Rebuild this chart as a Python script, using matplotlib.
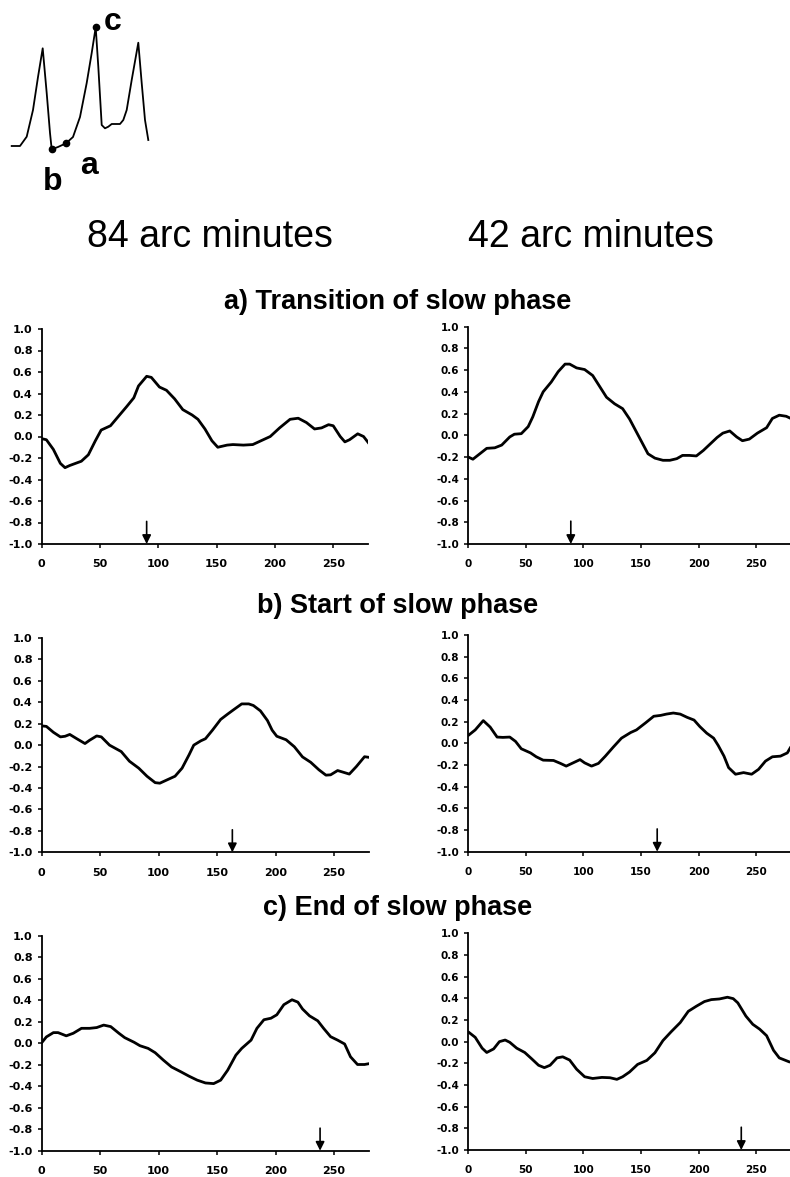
import matplotlib
matplotlib.use("Agg")
import matplotlib.pyplot as plt
import numpy as np

plt.rcParams['font.family'] = ['Liberation Sans', 'DejaVu Sans']

# ---------------- data ----------------
col_titles = ["84 arc minutes", "42 arc minutes"]
row_titles = ["a) Transition of slow phase", "b) Start of slow phase", "c) End of slow phase"]
x_ticks = [0, 50, 100, 150, 200, 250]
y_ticks = [-1.0, -0.8, -0.6, -0.4, -0.2, 0.0, 0.2, 0.4, 0.6, 0.8, 1.0]

a84_x = [0, 4, 10, 16, 20, 24, 29, 34, 40, 46, 51, 59, 66, 73, 79, 83, 90, 94, 101, 107, 114, 121, 129, 134, 140, 146, 151, 159, 164, 173, 181, 190, 196, 204, 213, 220, 227, 234, 240, 246, 250, 256, 260, 264, 271, 276, 281]
a84_y = [-0.02, -0.03, -0.12, -0.25, -0.29, -0.27, -0.25, -0.23, -0.17, -0.04, 0.06, 0.10, 0.19, 0.28, 0.36, 0.47, 0.56, 0.55, 0.46, 0.43, 0.35, 0.25, 0.20, 0.16, 0.07, -0.04, -0.10, -0.08, -0.075, -0.08, -0.075, -0.03, 0.0, 0.08, 0.16, 0.17, 0.13, 0.07, 0.08, 0.11, 0.10, 0.0, -0.05, -0.03, 0.025, 0.0, -0.07]

a42_x = [0, 4, 10, 16, 23, 29, 36, 40, 46, 52, 56, 61, 65, 72, 78, 84, 88, 94, 101, 108, 114, 120, 127, 134, 140, 146, 152, 156, 162, 169, 175, 181, 186, 192, 198, 204, 210, 216, 221, 227, 233, 238, 244, 251, 259, 264, 270, 276, 280]
a42_y = [-0.20, -0.22, -0.17, -0.12, -0.115, -0.09, -0.015, 0.01, 0.015, 0.08, 0.17, 0.31, 0.40, 0.49, 0.585, 0.655, 0.655, 0.62, 0.605, 0.55, 0.45, 0.35, 0.29, 0.245, 0.15, 0.03, -0.09, -0.17, -0.21, -0.23, -0.23, -0.215, -0.185, -0.185, -0.19, -0.14, -0.08, -0.02, 0.02, 0.04, -0.015, -0.05, -0.035, 0.02, 0.07, 0.155, 0.185, 0.175, 0.155]

b84_x = [0, 4, 10, 16, 20, 24, 30, 37, 41, 47, 51, 58, 63, 68, 75, 83, 90, 97, 101, 108, 114, 120, 126, 130, 136, 140, 146, 153, 159, 164, 171, 177, 181, 187, 193, 197, 201, 209, 216, 223, 230, 237, 243, 247, 253, 257, 263, 269, 276, 280]
b84_y = [0.18, 0.175, 0.12, 0.077, 0.083, 0.10, 0.06, 0.015, 0.046, 0.086, 0.077, 0.0, -0.03, -0.06, -0.15, -0.215, -0.29, -0.35, -0.355, -0.32, -0.29, -0.215, -0.09, 0.0, 0.04, 0.06, 0.14, 0.24, 0.29, 0.33, 0.385, 0.385, 0.37, 0.32, 0.23, 0.14, 0.083, 0.05, -0.015, -0.11, -0.16, -0.23, -0.28, -0.277, -0.237, -0.25, -0.27, -0.20, -0.108, -0.114]

b42_x = [0, 6, 13, 19, 25, 30, 36, 41, 46, 54, 59, 65, 74, 80, 85, 91, 97, 101, 107, 113, 119, 126, 133, 141, 146, 154, 161, 167, 172, 178, 184, 190, 196, 201, 207, 213, 217, 222, 226, 232, 239, 246, 252, 258, 264, 271, 277, 280]
b42_y = [0.073, 0.124, 0.21, 0.15, 0.058, 0.055, 0.058, 0.018, -0.05, -0.088, -0.124, -0.155, -0.158, -0.185, -0.21, -0.18, -0.15, -0.18, -0.21, -0.185, -0.118, -0.033, 0.048, 0.10, 0.124, 0.19, 0.25, 0.258, 0.27, 0.28, 0.27, 0.24, 0.215, 0.155, 0.094, 0.048, -0.02, -0.118, -0.224, -0.285, -0.27, -0.285, -0.24, -0.164, -0.124, -0.118, -0.088, -0.033]

c84_x = [0, 4, 10, 14, 21, 27, 34, 41, 47, 53, 59, 66, 71, 79, 84, 91, 97, 104, 111, 119, 126, 133, 140, 147, 153, 159, 166, 171, 179, 184, 190, 196, 201, 207, 214, 219, 223, 229, 236, 241, 247, 253, 259, 264, 270, 276, 281]
c84_y = [0.006, 0.06, 0.10, 0.10, 0.07, 0.094, 0.14, 0.14, 0.147, 0.17, 0.156, 0.094, 0.053, 0.01, -0.022, -0.047, -0.087, -0.156, -0.22, -0.265, -0.306, -0.343, -0.369, -0.375, -0.343, -0.25, -0.11, -0.047, 0.03, 0.14, 0.22, 0.234, 0.266, 0.36, 0.406, 0.384, 0.32, 0.256, 0.21, 0.14, 0.062, 0.03, -0.006, -0.125, -0.197, -0.197, -0.187]

c42_x = [0, 6, 12, 16, 22, 27, 32, 36, 42, 49, 55, 61, 66, 71, 77, 82, 88, 94, 101, 108, 116, 123, 129, 134, 140, 147, 155, 162, 169, 176, 184, 191, 198, 205, 211, 218, 225, 230, 234, 241, 247, 253, 259, 265, 270, 279]
c42_y = [0.09, 0.04, -0.06, -0.10, -0.067, 0.0, 0.015, -0.006, -0.06, -0.10, -0.158, -0.218, -0.24, -0.218, -0.15, -0.14, -0.17, -0.254, -0.324, -0.34, -0.33, -0.333, -0.348, -0.324, -0.28, -0.21, -0.173, -0.103, 0.01, 0.09, 0.176, 0.28, 0.327, 0.37, 0.388, 0.394, 0.41, 0.397, 0.358, 0.236, 0.16, 0.115, 0.055, -0.08, -0.15, -0.188]

arrow_x = [[90, 89], [163, 164], [238, 237]]

# schematic waveform (inset, pixel-like units)
wave_x = [11.7, 20, 26.7, 33, 38, 42.7, 46.7, 50, 51.7, 58, 66, 73, 80, 86.7, 91.7, 95.7, 98.3, 101.7, 105, 108.3, 111.7, 120, 123.3, 126.7, 131.7, 138.3, 141.7, 145, 148.3]
wave_y = [146, 146, 136.7, 110, 77, 48.3, 93, 133, 149.3, 147, 143.3, 137, 117, 83, 53, 27.3, 66.7, 125, 128.3, 126.7, 124, 124, 120, 110, 80, 42.7, 83, 120, 140]
marker_x = [51.7, 66, 95.7]
marker_y = [149.3, 143.3, 27.3]
marker_labels = ["b", "a", "c"]
label_x = [53, 89, 113]
label_y = [182, 166, 22]

series = [[(a84_x, a84_y), (a42_x, a42_y)],
          [(b84_x, b84_y), (b42_x, b42_y)],
          [(c84_x, c84_y), (c42_x, c42_y)]]

# ---------------- figure ----------------
W, H = 790, 1177
fig = plt.figure(figsize=(W / 100, H / 100), dpi=100)

def px_axes(x0, top, w, bottom):
    return fig.add_axes([x0 / W, 1 - bottom / H, w / W, (bottom - top) / H])

# inset schematic
ins = px_axes(0, 0, 200, 200)
ins.set_xlim(0, 200)
ins.set_ylim(200, 0)
ins.axis('off')
ins.plot(wave_x, wave_y, color='black', lw=1.3, solid_joinstyle='round')
ins.plot(marker_x, marker_y, 'o', color='black', ms=4.5)
for lx, ly, lt in zip(label_x, label_y, marker_labels):
    ins.text(lx, ly, lt, fontsize=23, fontweight='bold', ha='center', va='center')

# column titles
fig.text(210 / W, 1 - 237 / H, col_titles[0], fontsize=27, ha='center', va='center')
fig.text(591 / W, 1 - 237 / H, col_titles[1], fontsize=27, ha='center', va='center')

row_title_y = [302, 606, 908]
for t, yy in zip(row_titles, row_title_y):
    fig.text(398 / W, 1 - yy / H, t, fontsize=19.5, fontweight='bold', ha='center', va='center')

# panel geometry (pixels)
geo = [[(41.7, 329, 326.5, 544), (468.3, 326.6, 322.5, 544)],
       [(41.7, 638, 327.5, 852.3), (468.3, 635, 322.5, 851.7)],
       [(41.7, 936, 327.5, 1150.7), (468.3, 933.3, 322.5, 1150)]]

for r in range(3):
    for c in range(2):
        x0, top, w, bottom = geo[r][c]
        ax = px_axes(x0, top, w, bottom)
        xs, ys = series[r][c]
        ax.plot(xs, ys, color='black', lw=2.0, solid_joinstyle='round', solid_capstyle='round')
        ax.set_xlim(0, 280)
        ax.set_ylim(-1.0, 1.0)
        ax.spines['top'].set_visible(False)
        ax.spines['right'].set_visible(False)
        for s in ('left', 'bottom'):
            ax.spines[s].set_linewidth(1.3)
        ax.set_xticks(x_ticks)
        ax.set_yticks(y_ticks)
        ax.set_yticklabels([f"{v:.1f}" for v in y_ticks])
        ax.set_xticklabels([str(v) for v in x_ticks])
        ax.tick_params(axis='both', direction='out', length=3, width=1.1)
        ax.tick_params(axis='y', pad=3.5)
        ax.tick_params(axis='x', pad=8)
        fs = 8 if c == 0 else 7.5
        for lab in ax.get_xticklabels() + ax.get_yticklabels():
            lab.set_fontweight('bold')
            lab.set_fontsize(fs)
            lab.set_family(['DejaVu Sans'])
        axx = arrow_x[r][c]
        ax.annotate('', xy=(axx, -1.0), xytext=(axx, -0.79),
                    arrowprops=dict(arrowstyle='-|>', color='black', lw=1.2,
                                    mutation_scale=13, shrinkA=0, shrinkB=0))

fig.savefig('out.png', dpi=100)
